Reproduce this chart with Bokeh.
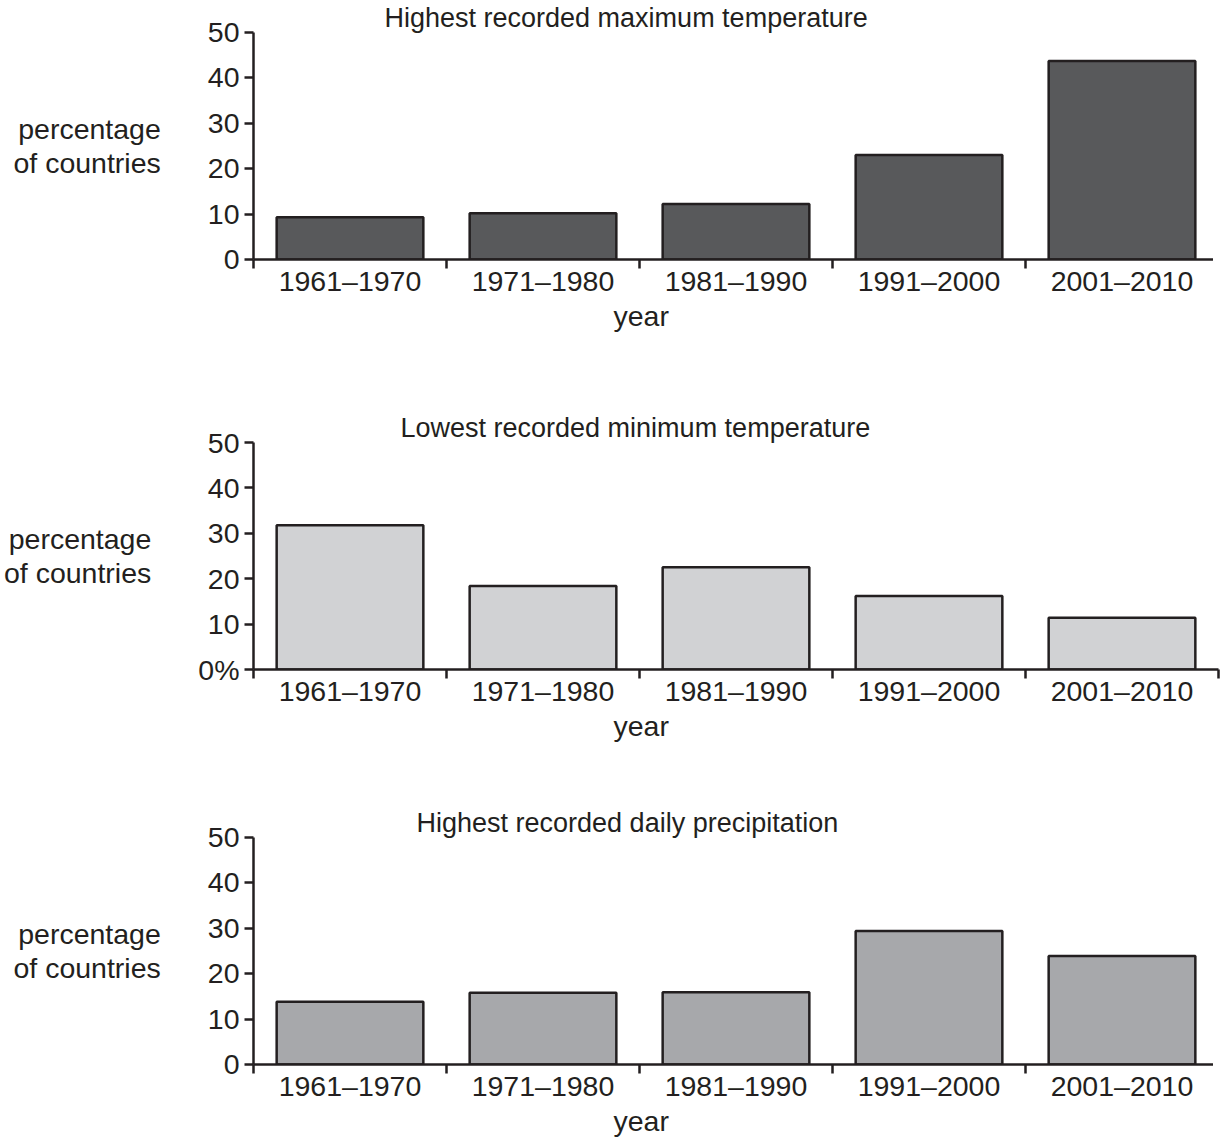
from bokeh.plotting import figure
from bokeh.models import Range1d, FixedTicker, Title
from bokeh.layouts import column
from bokeh.embed import file_html
from bokeh.resources import INLINE

# ---- data ----
periods = ["1961–1970", "1971–1980", "1981–1990", "1991–2000", "2001–2010"]
max_temp = [9.3, 10.2, 12.2, 23.0, 43.7]
min_temp = [31.8, 18.4, 22.5, 16.2, 11.4]
daily_precip = [13.8, 15.8, 15.9, 29.4, 23.9]
titles = ["Highest recorded maximum temperature",
          "Lowest recorded minimum temperature",
          "Highest recorded daily precipitation"]
y_ticks = [0, 10, 20, 30, 40, 50]
y_label = "percentage\nof countries"
x_label = "year"

# ---- style ----
FONT = "Liberation Sans"
INK = "#231f20"
FS = "28.5px"
TITLE_FS = "27px"
fills = ["#58595b", "#d1d2d4", "#a7a8ab"]
series = [max_temp, min_temp, daily_precip]
zero_labels = ["0", "0%", "0"]
title_offsets = [131, 147, 163]
bottom_borders = [151, 136, 75]
FRAME_H = 227
FRAME_W = 965
LEFT = 240
RIGHT = 5


def make_chart(vals, fill, title, zero_label, t_off, bottom):
    p = figure(frame_width=FRAME_W, frame_height=FRAME_H,
               x_range=Range1d(0, len(periods)), y_range=Range1d(0, 50),
               output_backend="svg", toolbar_location=None, tools="",
               min_border_left=LEFT, min_border_right=RIGHT,
               min_border_top=0, min_border_bottom=bottom)
    p.outline_line_color = None
    p.background_fill_color = "white"
    p.border_fill_color = "white"
    p.xgrid.visible = False
    p.ygrid.visible = False

    p.title.text = title
    p.title.align = "left"
    p.title.offset = t_off
    p.title.text_font = FONT
    p.title.text_font_size = TITLE_FS
    p.title.text_font_style = "normal"
    p.title.text_color = INK
    p.title.standoff = 0

    xs = [i + 0.5 for i in range(len(periods))]
    p.vbar(x=xs, top=vals, bottom=0, width=0.76, fill_color=fill,
           line_color=INK, line_width=2.5)

    # x axis: labels at category centres, ticks at category boundaries
    xa = p.xaxis[0]
    xa.ticker = FixedTicker(ticks=xs, minor_ticks=list(range(len(periods) + 1)))
    xa.major_label_overrides = {x: lab for x, lab in zip(xs, periods)}
    xa.major_tick_in = 0
    xa.major_tick_out = 0
    xa.minor_tick_in = 0
    xa.minor_tick_out = 9
    xa.minor_tick_line_width = 2.5
    xa.minor_tick_line_color = INK
    xa.axis_line_width = 2.5
    xa.axis_line_color = INK
    xa.major_label_text_font = FONT
    xa.major_label_text_font_size = FS
    xa.major_label_text_color = INK
    xa.major_label_standoff = -4

    ya = p.yaxis[0]
    ya.ticker = FixedTicker(ticks=y_ticks, minor_ticks=[])
    ya.major_label_overrides = {0: zero_label}
    ya.major_tick_in = 0
    ya.major_tick_out = 9
    ya.major_tick_line_width = 2.5
    ya.major_tick_line_color = INK
    ya.axis_line_width = 2.5
    ya.axis_line_color = INK
    ya.major_label_text_font = FONT
    ya.major_label_text_font_size = FS
    ya.major_label_text_color = INK
    ya.major_label_standoff = 5
    ya.axis_label = y_label
    ya.axis_label_text_font = FONT
    ya.axis_label_text_font_size = FS
    ya.axis_label_text_font_style = "normal"
    ya.axis_label_text_color = INK
    ya.axis_label_text_line_height = 1.05
    ya.axis_label_standoff = 44
    if "axis_label_orientation" in ya.properties():
        ya.axis_label_orientation = "horizontal"

    yr = Title(text=x_label, align="left", offset=360, text_font=FONT,
               text_font_size=FS, text_font_style="normal", text_color=INK,
               standoff=-4)
    p.add_layout(yr, "below")
    return p


charts = [make_chart(v, f, t, z, o, b)
          for v, f, t, z, o, b in zip(series, fills, titles, zero_labels,
                                      title_offsets, bottom_borders)]
layout = column(*charts, spacing=0)

open("out.html", "w").write(file_html(layout, INLINE))
